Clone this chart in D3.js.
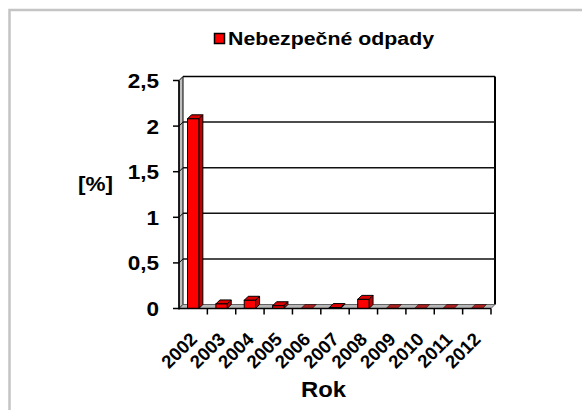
<html>
  <head>
    <script src="https://cdnjs.cloudflare.com/ajax/libs/d3/7.8.5/d3.min.js"></script>
    <style>
      body { margin: 0; background: #fff; }
      svg { display: block; font-family: "Liberation Sans", Arial, sans-serif; font-weight: bold; }
    </style>
  </head>
  <body>
    <svg width="582" height="410"></svg>
    <script>
      // data
      const years = ["2002", "2003", "2004", "2005", "2006", "2007", "2008", "2009", "2010", "2011", "2012"];
      const values = [2.08, 0.05, 0.09, 0.03, 0, 0.01, 0.1, 0, 0, 0, 0];
      const yTicks = [0, 0.5, 1, 1.5, 2, 2.5];
      const seriesName = "Nebezpečné odpady";

      const svg = d3.select("svg");
      const dx = 4, dy = -4; // 3d depth

      const x = d3.scaleBand().domain(years).range([179, 491]).paddingInner(0.6).paddingOuter(0.3);
      const y = d3.scaleLinear().domain([0, 2.5]).range([308.5, 80.5]);
      const step = x.step();
      const fmt = v => String(v).replace(".", ",");

      // outer frame
      svg.append("rect").attr("x", 9.5).attr("y", 10).attr("width", 600).attr("height", 420)
        .attr("fill", "none").attr("stroke", "#c4c4c4").attr("stroke-width", 2.5);

      const x0 = x.range()[0], x1 = x.range()[1];
      const y0 = y(0), yTop = y(2.5);

      // back wall
      svg.append("rect").attr("x", x0 + dx).attr("y", yTop + dy).attr("width", x1 - x0).attr("height", y0 - yTop)
        .attr("fill", "#fff").attr("stroke", "none");
      svg.append("line").attr("x1", x0 + dx).attr("x2", x1 + dx).attr("y1", yTop + dy).attr("y2", yTop + dy)
        .attr("stroke", "#000").attr("stroke-width", 1.5);
      svg.append("line").attr("x1", x1 + dx).attr("x2", x1 + dx).attr("y1", yTop + dy).attr("y2", y0 + dy)
        .attr("stroke", "#000").attr("stroke-width", 2);

      // left side wall
      svg.append("path")
        .attr("d", `M${x0},${y0}L${x0},${yTop}L${x0 + dx},${yTop + dy}L${x0 + dx},${y0 + dy}Z`)
        .attr("fill", "#c0c0c0").attr("stroke", "#000").attr("stroke-width", 1);

      // gridlines
      yTicks.filter(v => v > 0 && v < 2.5).forEach(v => {
        svg.append("line").attr("x1", x0 + dx).attr("x2", x1 + dx).attr("y1", y(v) + dy).attr("y2", y(v) + dy)
          .attr("stroke", "#111").attr("stroke-width", 1.5);
        svg.append("line").attr("x1", x0).attr("x2", x0 + dx).attr("y1", y(v)).attr("y2", y(v) + dy)
          .attr("stroke", "#000").attr("stroke-width", 1);
      });

      // floor
      svg.append("path")
        .attr("d", `M${x0},${y0}L${x1},${y0}L${x1 + dx},${y0 + dy}L${x0 + dx},${y0 + dy}Z`)
        .attr("fill", "#b8b8b8").attr("stroke", "#444").attr("stroke-width", 0.8);

      // bars
      const bw = x.bandwidth();
      const bars = svg.append("g").selectAll("g").data(years).join("g");
      bars.each(function(yr, i) {
        const g = d3.select(this);
        const bx = x(yr), top = y(values[i]);
        g.append("path")
          .attr("d", `M${bx},${top}L${bx + dx},${top + dy}L${bx + bw + dx},${top + dy}L${bx + bw},${top}Z`)
          .attr("fill", values[i] > 0 ? "#dd0000" : "#a82020").attr("stroke", "#000").attr("stroke-width", values[i] > 0 ? 1 : 0.5);
        if (values[i] > 0) {
          g.append("path")
            .attr("d", `M${bx + bw},${top}L${bx + bw + dx},${top + dy}L${bx + bw + dx},${y0 + dy}L${bx + bw},${y0}Z`)
            .attr("fill", "#c00000").attr("stroke", "#000").attr("stroke-width", 1);
          g.append("rect").attr("x", bx).attr("y", top).attr("width", bw).attr("height", y0 - top)
            .attr("fill", "#ff0000").attr("stroke", "#000").attr("stroke-width", 1);
        }
      });

      // y axis
      svg.append("line").attr("x1", x0).attr("x2", x0).attr("y1", yTop).attr("y2", y0 + 1)
        .attr("stroke", "#000").attr("stroke-width", 1.5);
      const yAx = svg.append("g").selectAll("g").data(yTicks).join("g");
      yAx.append("line").attr("x1", x0 - 6).attr("x2", x0).attr("y1", d => y(d)).attr("y2", d => y(d))
        .attr("stroke", "#000").attr("stroke-width", 1.5);
      yAx.append("text").attr("text-anchor", "end").attr("font-size", 20.5)
        .attr("transform", d => `translate(159,${y(d) + 7.5}) scale(1.1,1)`)
        .text(fmt);

      // x axis
      svg.append("line").attr("x1", x0).attr("x2", x1).attr("y1", y0).attr("y2", y0)
        .attr("stroke", "#000").attr("stroke-width", 1.5);
      d3.range(1, years.length + 1).forEach(k => {
        svg.append("line").attr("x1", x0 + k * step).attr("x2", x0 + k * step).attr("y1", y0).attr("y2", y0 + 6)
          .attr("stroke", "#000").attr("stroke-width", 1.5);
      });
      svg.append("g").selectAll("text").data(years).join("text")
        .attr("text-anchor", "end").attr("font-size", 18.5)
        .attr("transform", d => `translate(${x(d) + bw / 2 + 5},${y0 + 32}) rotate(-45)`)
        .text(d => d);

      // axis titles
      svg.append("text").attr("x", 301).attr("y", 396.5).attr("font-size", 22.5)
        .attr("textLength", 45).attr("lengthAdjust", "spacingAndGlyphs").text("Rok");
      svg.append("text").attr("x", 78).attr("y", 191).attr("font-size", 21)
        .attr("textLength", 35).attr("lengthAdjust", "spacingAndGlyphs").text("[%]");

      // legend
      svg.append("rect").attr("x", 214.5).attr("y", 33.5).attr("width", 10).attr("height", 10)
        .attr("fill", "#ff0000").attr("stroke", "#000").attr("stroke-width", 1.5);
      svg.append("text").attr("x", 228).attr("y", 45).attr("font-size", 18)
        .attr("textLength", 206).attr("lengthAdjust", "spacingAndGlyphs").text(seriesName);
    </script>
  </body>
</html>
